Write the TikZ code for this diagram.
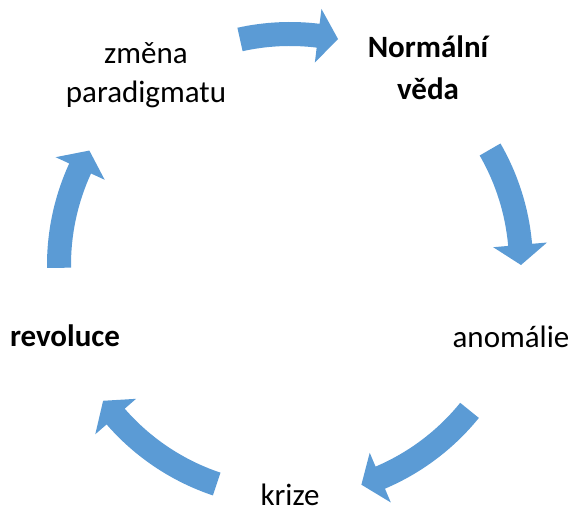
\documentclass[tikz,border=0pt]{standalone}
\usepackage{fontspec}
\setmainfont{Carlito}
\usetikzlibrary{positioning}
\definecolor{cycleblue}{HTML}{5B9BD5}

\begin{document}
\begin{tikzpicture}[
    x=1pt, y=1pt,
    label/.style={inner sep=0pt, align=center, font=\fontsize{31}{37}\selectfont, anchor=base},
    cycarrow/.style={fill=cycleblue}
]
\useasboundingbox (0,0) rectangle (573,511);

\node[label, font=\fontsize{31}{37}\selectfont\bfseries] (normal) at (428,411) {Normální\\[5pt]věda};
\node[label] (anomalie) at (511,163) {anomálie};
\node[label] (krize) at (290,5) {krize};
\node[label, font=\fontsize{31}{37}\selectfont\bfseries] (revoluce) at (65,164) {revoluce};
\node[label] (zmena) at (146,408) {změna\\[2pt]paradigmatu};

% arrows of the cycle
\begin{scope}[shift={(290,246)}]
\foreach \s/\t [evaluate=\t as \b using \t+5] in {102.5/78, 30/0, -39/-72, -108.5/-144, 180.7/150.3}
  \fill[cycarrow] (\s:243pt) arc[start angle=\s, end angle=\b, radius=243pt]
    -- (\b:258pt) -- (\t:231pt) -- (\b:204pt) -- (\b:219pt)
    arc[start angle=\b, end angle=\s, radius=219pt] -- cycle;
\end{scope}
\end{tikzpicture}
\end{document}
